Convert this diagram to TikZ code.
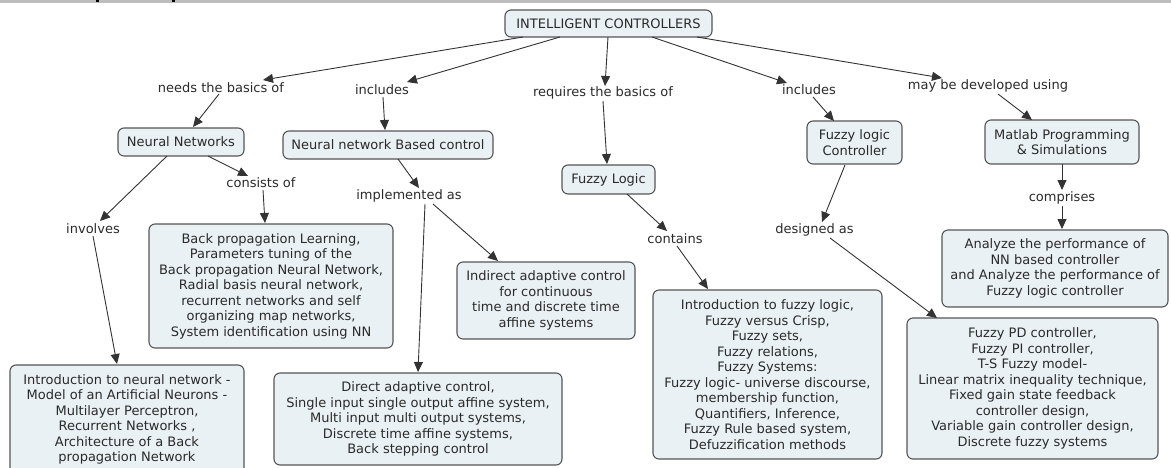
\documentclass[tikz,border=0pt]{standalone}
\usepackage{fontspec}
\setmainfont{DejaVu Sans}
\usetikzlibrary{arrows.meta}
\definecolor{boxfill}{HTML}{EAF1F4}
\definecolor{boxline}{HTML}{555555}
\definecolor{linecol}{HTML}{333333}
\definecolor{txt}{HTML}{2A2A2A}
\definecolor{topbar}{HTML}{BDBDBD}
\begin{document}
\begin{tikzpicture}[x=1pt,y=-1pt,
 every node/.style={font=\fontsize{13}{15.5}\selectfont, text=txt},
 concept/.style={draw=boxline, fill=boxfill, rounded corners=6pt, line width=1.1pt, align=center, inner sep=0pt},
 lab/.style={inner sep=1pt},
 arr/.style={draw=linecol, line width=0.9pt, -{Triangle[length=10pt,width=9pt]}},
]
\useasboundingbox (0,0) rectangle (1171,467);
\clip (0,0) rectangle (1171,467);
\fill[topbar] (0,0) rectangle (1171,3);
\fill[black] (96,0) rectangle (99,2);
\fill[black] (172,0) rectangle (175,2);

% concepts
\node[concept, minimum width=207, minimum height=27] (ic) at (608.5,23.5) {INTELLIGENT CONTROLLERS};
\node[concept, minimum width=126, minimum height=28] (nn) at (181,142) {Neural Networks};
\node[concept, minimum width=210, minimum height=28] (nnbc) at (388,145) {Neural network Based control};
\node[concept, minimum width=93, minimum height=29] (fl) at (608.5,179.5) {Fuzzy Logic};
\node[concept, minimum width=95, minimum height=43] (flc) at (854.5,142.5) {Fuzzy logic\\Controller};
\node[concept, minimum width=154, minimum height=44] (matlab) at (1062,142) {Matlab Programming\\\& Simulations};
\node[concept, minimum width=244, minimum height=124] (bp) at (271,286) {Back propagation Learning,\\Parameters tuning of the\\Back propagation Neural Network,\\Radial basis neural network,\\recurrent networks and self\\organizing map networks,\\System identification using NN};
\node[concept, minimum width=234, minimum height=109] (intro) at (127,419.5) {Introduction to neural network -\\Model of an Artificial Neurons -\\Multilayer Perceptron,\\Recurrent Networks ,\\Architecture of a Back\\propagation Network};
\node[concept, minimum width=288, minimum height=92] (direct) at (418,419) {Direct adaptive control,\\Single input single output affine system,\\Multi input multi output systems,\\Discrete time affine systems,\\Back stepping control};
\node[concept, minimum width=178, minimum height=77] (indirect) at (546,300.5) {Indirect adaptive control\\for continuous\\time and discrete time\\affine systems};
\node[concept, minimum width=229, minimum height=169] (fintro) at (767.5,374.5) {Introduction to fuzzy logic,\\Fuzzy versus Crisp,\\Fuzzy sets,\\Fuzzy relations,\\Fuzzy Systems:\\Fuzzy logic- universe discourse,\\membership function,\\Quantifiers, Inference,\\Fuzzy Rule based system,\\Defuzzification methods};
\node[concept, minimum width=251, minimum height=141] (fpd) at (1032.5,388.5) {Fuzzy PD controller,\\Fuzzy PI controller,\\T-S Fuzzy model-\\Linear matrix inequality technique,\\Fixed gain state feedback\\controller design,\\Variable gain controller design,\\Discrete fuzzy systems};
\node[concept, minimum width=226, minimum height=77] (analyze) at (1055,268.5) {Analyze the performance of\\NN based controller\\and Analyze the performance of\\Fuzzy logic controller};

% linking phrases
\node[lab] (needs) at (221,88) {needs the basics of};
\node[lab] (incL) at (382,90) {includes};
\node[lab] (req) at (603,93) {requires the basics of};
\node[lab] (incR) at (809,90) {includes};
\node[lab] (may) at (988,86) {may be developed using};
\node[lab] (consists) at (261,183) {consists of};
\node[lab] (impl) at (409,196) {implemented as};
\node[lab] (involves) at (93,229) {involves};
\node[lab] (contains) at (675,239) {contains};
\node[lab] (designed) at (814.5,230) {designed as};
\node[lab] (comprises) at (1062,198) {comprises};

% connectors
\draw[arr] ([shift={(-85.5,13.5)}]ic.center) -- ([shift={(42,-8)}]needs.center);
\draw[arr] ([shift={(-2,6)}]needs.center) -- ([shift={(12,-15)}]nn.center);
\draw[arr] ([shift={(-48.5,13.5)}]ic.center) -- ([shift={(25,-8)}]incL.center);
\draw[arr] ([shift={(1,7)}]incL.center) -- ([shift={(-3,-15)}]nnbc.center);
\draw[arr] ([shift={(-0.5,13.5)}]ic.center) -- ([shift={(2,-7)}]req.center);
\draw[arr] ([shift={(0,8)}]req.center) -- ([shift={(-1.5,-15.5)}]fl.center);
\draw[arr] ([shift={(43.5,13.5)}]ic.center) -- ([shift={(-22,-7)}]incR.center);
\draw[arr] ([shift={(4,7)}]incR.center) -- ([shift={(-20.5,-21.5)}]flc.center);
\draw[arr] ([shift={(88.5,13.5)}]ic.center) -- ([shift={(-46,-8)}]may.center);
\draw[arr] ([shift={(10,8)}]may.center) -- ([shift={(-30,-22)}]matlab.center);
\draw[arr] ([shift={(0,22)}]matlab.center) -- ([shift={(0,-8)}]comprises.center);
\draw[arr] ([shift={(0,8)}]comprises.center) -- ([shift={(7,-39.5)}]analyze.center);
\draw[arr] ([shift={(27,14)}]nn.center) -- ([shift={(-13,-7)}]consists.center);
\draw[arr] ([shift={(2,7)}]consists.center) -- ([shift={(-6,-63)}]bp.center);
\draw[arr] ([shift={(-14,14)}]nn.center) -- ([shift={(7,-8)}]involves.center);
\draw[arr] ([shift={(0,7)}]involves.center) -- ([shift={(-10,-55.5)}]intro.center);
\draw[arr] ([shift={(10,14)}]nnbc.center) -- ([shift={(10,-8)}]impl.center);
\draw[arr] ([shift={(16,8)}]impl.center) -- ([shift={(0,-47)}]direct.center);
\draw[arr] ([shift={(24,8)}]impl.center) -- ([shift={(-48,-39.5)}]indirect.center);
\draw[arr] ([shift={(18.5,14.5)}]fl.center) -- ([shift={(-8,-8)}]contains.center);
\draw[arr] ([shift={(2,7)}]contains.center) -- ([shift={(-59.5,-85.5)}]fintro.center);
\draw[arr] ([shift={(-9.5,22.5)}]flc.center) -- ([shift={(7.5,-8)}]designed.center);
\draw[arr] ([shift={(15.5,8)}]designed.center) -- ([shift={(-95.5,-70.5)}]fpd.center);
\end{tikzpicture}
\end{document}
